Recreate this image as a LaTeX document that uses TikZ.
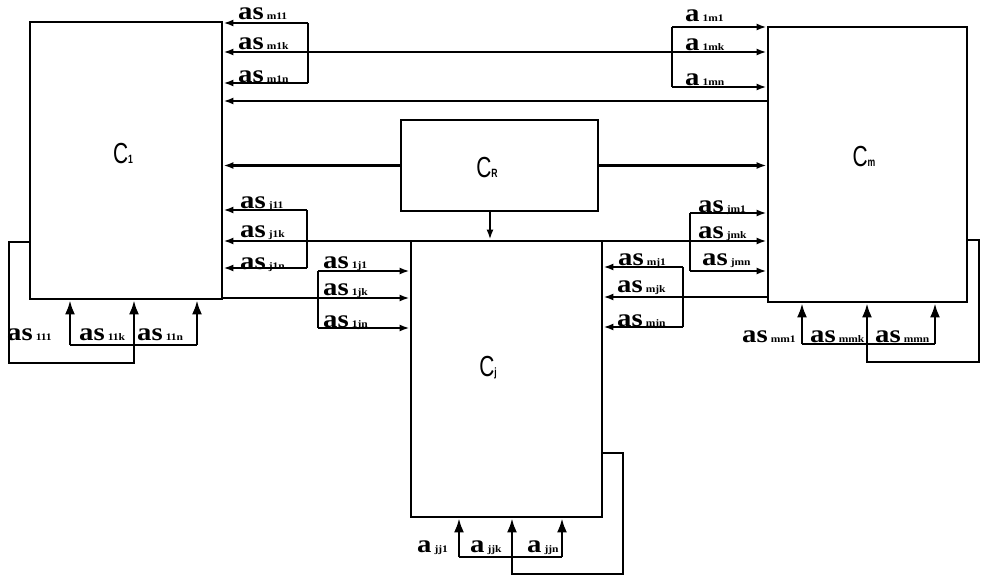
\documentclass[tikz,border=0pt]{standalone}
\usepackage{fontspec}
\setmainfont{Liberation Serif}
\newfontfamily\asfont[FakeStretch=1.15]{Liberation Serif}
\newfontfamily\boxfont[FakeStretch=0.72]{Liberation Sans}
\usetikzlibrary{arrows.meta}
\newcommand{\alab}[2]{{\fontsize{25}{25}\selectfont\asfont\bfseries #1}\hspace{3pt}{\fontsize{10}{10}\selectfont\asfont\bfseries #2}}
\newcommand{\blab}[2]{{\fontsize{29}{29}\selectfont\boxfont C}{\fontsize{12}{12}\selectfont\boxfont\bfseries #2}}
\tikzset{
  box/.style={draw, line width=2.8pt, rectangle, inner sep=0pt},
  wire/.style={line width=2.3pt},
  sarr/.style={-{Latex[length=10pt,width=7pt]}},
  sarrs/.style={{Latex[length=10pt,width=7pt]}-{Latex[length=10pt,width=7pt]}},
  barr/.style={-{Latex[length=14pt,width=10pt]}},
  lbl/.style={anchor=base west, inner sep=0pt},
  blbl/.style={anchor=center, inner sep=0pt}
}
\begin{document}
\begin{tikzpicture}[x=1pt,y=-1pt]
\useasboundingbox (0,0) rectangle (983,578);
% boxes
\node[box, minimum width=192pt, minimum height=277pt] (C1) at (126,160.5) {};
\node[box, minimum width=199pt, minimum height=275pt] (Cm) at (867.5,164.5) {};
\node[box, minimum width=197pt, minimum height=91pt] (CR) at (499.5,165.5) {};
\node[box, minimum width=191pt, minimum height=276pt] (Cj) at (506.5,379) {};
\node[blbl] (tC1) at (123,154) {\blab{C}{1}};
\node[blbl] (tCm) at (864,157) {\blab{C}{m}};
\node[blbl] (tCR) at (487,168) {\blab{C}{R}};
\node[blbl] (tCj) at (488,368) {\blab{C}{j}};
% top-left bracket
\coordinate (tl1) at (308,23); \coordinate (tl2) at (308,52); \coordinate (tl3) at (308,83);
\draw[wire] (tl1) -- (tl3);
\draw[wire,sarr] (tl1) -- (tl1 -| C1.east);
\draw[wire,sarr] (tl3) -- (tl3 -| C1.east);
% top-right bracket
\coordinate (tr1) at (672,27); \coordinate (tr3) at (672,87);
\draw[wire] (tr1) -- (tr3);
\draw[wire,sarr] (tr1) -- (tr1 -| Cm.west);
\draw[wire,sarr] (tr3) -- (tr3 -| Cm.west);
\draw[wire,sarrs] (tl2 -| C1.east) -- (tl2 -| Cm.west);
% line y=101
\coordinate (h1) at (500,101);
\draw[wire,sarr] (h1 -| Cm.west) -- (h1 -| C1.east);
% CR connections
\draw[wire,sarr] (CR.west) -- (CR.west -| C1.east);
\draw[wire,sarr] (CR.east) -- (CR.east -| Cm.west);
\coordinate (crs) at (490,211);
\draw[wire,sarr] (crs) -- (crs |- Cj.north);
% left-middle bracket
\coordinate (lm1) at (307,210); \coordinate (lm2) at (307,241); \coordinate (lm3) at (307,268);
\draw[wire] (lm1) -- (lm3);
\draw[wire,sarr] (lm1) -- (lm1 -| C1.east);
\draw[wire,sarr] (lm3) -- (lm3 -| C1.east);
\draw[wire,sarrs] (lm2 -| C1.east) -- (lm2 -| Cm.west);
% right-middle bracket
\coordinate (rm1) at (690,213); \coordinate (rm3) at (690,271);
\draw[wire] (rm1) -- (rm3);
\draw[wire,sarr] (rm1) -- (rm1 -| Cm.west);
\draw[wire,sarr] (rm3) -- (rm3 -| Cm.west);
% Cj right bracket
\coordinate (cr1) at (683,267); \coordinate (cr2) at (683,297); \coordinate (cr3) at (683,327);
\draw[wire] (cr1) -- (cr3);
\draw[wire,sarr] (cr1) -- (cr1 -| Cj.east);
\draw[wire,sarr] (cr3) -- (cr3 -| Cj.east);
\draw[wire,sarr] (cr2 -| Cm.west) -- (cr2 -| Cj.east);
% Cj left bracket
\coordinate (cl1) at (318,271); \coordinate (cl2) at (318,298); \coordinate (cl3) at (318,328);
\draw[wire] (cl1) -- (cl3);
\draw[wire,sarr] (cl1) -- (cl1 -| Cj.west);
\draw[wire,sarr] (cl3) -- (cl3 -| Cj.west);
\draw[wire,sarr] (cl2 -| C1.east) -- (cl2 -| Cj.west);
% C1 self loop
\coordinate (a1) at (70,345); \coordinate (j1) at (134,345); \coordinate (c1) at (197,345);
\coordinate (d1) at (134,363); \coordinate (e1) at (9,242);
\draw[wire] (a1) -- (c1);
\draw[wire,barr] (a1) -- (a1 |- C1.south);
\draw[wire,barr] (j1) -- (j1 |- C1.south);
\draw[wire,barr] (c1) -- (c1 |- C1.south);
\draw[wire] (j1) -- (d1) -| (e1) -- (e1 -| C1.west);
% Cm self loop
\coordinate (a2) at (802,344); \coordinate (j2) at (867,344); \coordinate (c2) at (935,344);
\coordinate (d2) at (867,362); \coordinate (e2) at (979,240);
\draw[wire] (a2) -- (c2);
\draw[wire,barr] (a2) -- (a2 |- Cm.south);
\draw[wire,barr] (j2) -- (j2 |- Cm.south);
\draw[wire,barr] (c2) -- (c2 |- Cm.south);
\draw[wire] (j2) -- (d2) -| (e2) -- (e2 -| Cm.east);
% Cj self loop
\coordinate (a3) at (459,557); \coordinate (j3) at (512,557); \coordinate (c3) at (562,557);
\coordinate (d3) at (512,574); \coordinate (e3) at (623,453);
\draw[wire] (a3) -- (c3);
\draw[wire,barr] (a3) -- (a3 |- Cj.south);
\draw[wire,barr] (j3) -- (j3 |- Cj.south);
\draw[wire,barr] (c3) -- (c3 |- Cj.south);
\draw[wire] (j3) -- (d3) -| (e3) -- (e3 -| Cj.east);
% labels
\node[lbl] (L1) at (238,20) {\alab{as}{m11}};
\node[lbl] (L2) at (238,50) {\alab{as}{m1k}};
\node[lbl] (L3) at (238,82) {\alab{as}{m1n}};
\node[lbl] (L4) at (685,22) {\alab{a}{1m1}};
\node[lbl] (L5) at (685,51) {\alab{a}{1mk}};
\node[lbl] (L6) at (685,85) {\alab{a}{1mn}};
\node[lbl] (L7) at (240,208) {\alab{as}{j11}};
\node[lbl] (L8) at (240,237) {\alab{as}{j1k}};
\node[lbl] (L9) at (240,269) {\alab{as}{j1n}};
\node[lbl] (L10) at (323,268) {\alab{as}{1j1}};
\node[lbl] (L11) at (323,295) {\alab{as}{1jk}};
\node[lbl] (L12) at (323,327) {\alab{as}{1jn}};
\node[lbl] (L13) at (698,212) {\alab{as}{jm1}};
\node[lbl] (L14) at (698,238) {\alab{as}{jmk}};
\node[lbl] (L15) at (702,265) {\alab{as}{jmn}};
\node[lbl] (L16) at (618,265) {\alab{as}{mj1}};
\node[lbl] (L17) at (617,292) {\alab{as}{mjk}};
\node[lbl] (L18) at (617,326) {\alab{as}{mjn}};
\node[lbl] (L19) at (7,340) {\alab{as}{111}};
\node[lbl] (L20) at (79,340) {\alab{as}{11k}};
\node[lbl] (L21) at (137,340) {\alab{as}{11n}};
\node[lbl] (L22) at (742,342) {\alab{as}{mm1}};
\node[lbl] (L23) at (810,342) {\alab{as}{mmk}};
\node[lbl] (L24) at (875,342) {\alab{as}{mmn}};
\node[lbl] (L25) at (417,552) {\alab{a}{jj1}};
\node[lbl] (L26) at (470,552) {\alab{a}{jjk}};
\node[lbl] (L27) at (527,552) {\alab{a}{jjn}};
\end{tikzpicture}
\end{document}
